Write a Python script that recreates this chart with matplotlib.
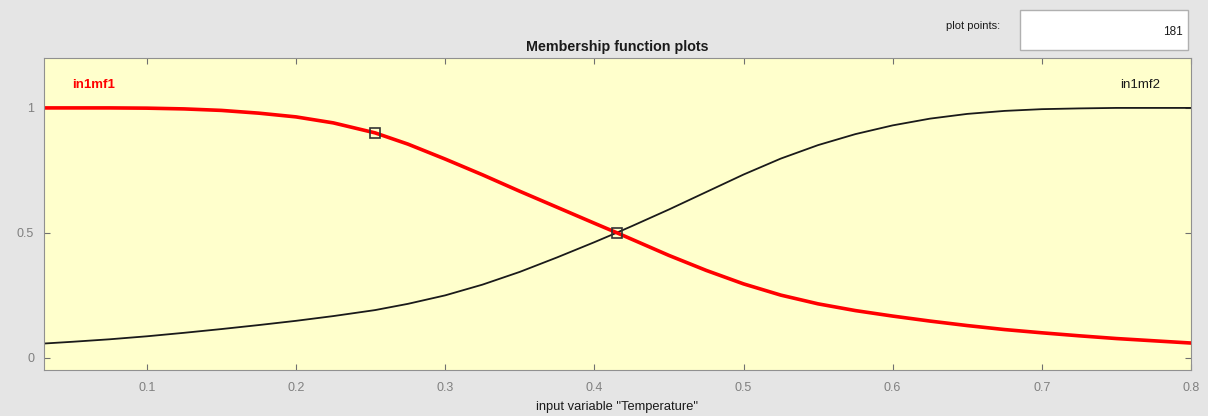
import numpy as np
import matplotlib.pyplot as plt
from matplotlib.patches import Rectangle

plt.rcParams['font.family'] = ['Liberation Sans', 'DejaVu Sans']

# values
x_mf = [0.031, 0.05, 0.075, 0.1, 0.125, 0.15, 0.175, 0.2, 0.225, 0.253,
        0.275, 0.3, 0.325, 0.35, 0.375, 0.4, 0.415, 0.425, 0.45, 0.475,
        0.5, 0.525, 0.55, 0.575, 0.6, 0.625, 0.65, 0.675, 0.7, 0.725,
        0.75, 0.775, 0.8]
in1mf1 = [1.0, 1.0, 1.0, 0.999, 0.996, 0.99, 0.979, 0.964, 0.94, 0.9,
          0.855, 0.795, 0.732, 0.666, 0.602, 0.538, 0.5, 0.474, 0.409, 0.349,
          0.295, 0.25, 0.215, 0.188, 0.166, 0.146, 0.128, 0.112, 0.099, 0.087,
          0.076, 0.067, 0.058]
in1mf2 = [0.056, 0.063, 0.073, 0.085, 0.099, 0.114, 0.13, 0.147, 0.166, 0.19,
          0.215, 0.249, 0.292, 0.343, 0.401, 0.462, 0.5, 0.526, 0.593, 0.663,
          0.733, 0.797, 0.851, 0.895, 0.93, 0.957, 0.976, 0.988, 0.995, 0.998,
          1.0, 1.0, 1.0]
marker_x = [0.253, 0.415]
marker_y = [0.9, 0.5]
xticks = [0.1, 0.2, 0.3, 0.4, 0.5, 0.6, 0.7, 0.8]
yticks = [0, 0.5, 1]
plot_points = 181

fig = plt.figure(figsize=(12.08, 4.16), dpi=100, facecolor="#e5e5e5")
ax = fig.add_axes([0.0364, 0.1106, 0.9495, 0.75])
ax.set_facecolor("#ffffcc")

ax.plot(x_mf, in1mf2, color="#1a1a1a", lw=1.3, solid_joinstyle="round")
ax.plot(x_mf, in1mf1, color="#ff0000", lw=2.6, solid_joinstyle="round")
ax.plot(marker_x, marker_y, ls="none", marker="s", ms=7, mfc="none",
        mec="#333333", mew=1.2)

ax.text(0.064, 1.092, "in1mf1", color="#ff0000", fontsize=9.5,
        fontweight="bold", ha="center", va="center")
ax.text(0.766, 1.092, "in1mf2", color="#1a1a1a", fontsize=9.5,
        ha="center", va="center")

ax.set_xlim(0.031, 0.8)
ax.set_ylim(-0.05, 1.2)
ax.set_xticks(xticks)
ax.set_xticklabels([str(t) for t in xticks])
ax.set_yticks(yticks)
ax.set_yticklabels(["0", "0.5", "1"])
ax.tick_params(direction="in", length=4, color="#707070", labelcolor="#808080",
               labelsize=9, top=True, right=True)
ax.tick_params(axis="x", pad=9)
ax.tick_params(axis="y", pad=7)
for s in ax.spines.values():
    s.set_color("#909090")

ax.set_title("Membership function plots", fontsize=10.3, fontweight="bold",
             color="#1a1a1a", pad=5)
ax.set_xlabel('input variable "Temperature"', fontsize=9.3, color="#1a1a1a",
              labelpad=5)

# plot points box in the upper right
fig.text(1000 / 1208, 1 - 26 / 416, "plot points:", fontsize=8,
         ha="right", va="center", color="#1a1a1a")
fig.patches.append(Rectangle((1020 / 1208, 1 - 50 / 416), 168 / 1208, 40 / 416,
                             transform=fig.transFigure, facecolor="white",
                             edgecolor="#b0b0b0", lw=1))
fig.text(1183 / 1208, 1 - 32 / 416, str(plot_points), fontsize=8.5,
         ha="right", va="center", color="#1a1a1a")

fig.savefig("out.png", dpi=100, facecolor=fig.get_facecolor())
